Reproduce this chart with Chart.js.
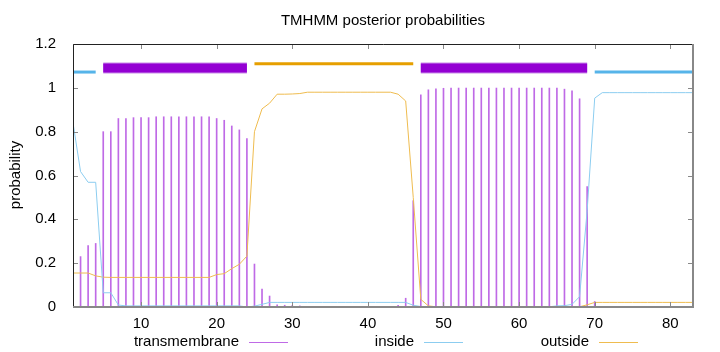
<!DOCTYPE html>
<html>
<head>
<meta charset="utf-8">
<script src="https://cdn.jsdelivr.net/npm/chart.js@4"></script>
<style>
  html, body { margin: 0; padding: 0; background: #fff; }
  canvas { display: block; }
</style>
</head>
<body>
<canvas id="tmhmm_chart" width="720" height="352"></canvas>
<script>
// posterior probabilities, residue 1..83
const positions = Array.from({ length: 83 }, (_, i) => i + 1);

const transmembrane = [
  0.005, 0.23, 0.28, 0.29, 0.80, 0.80, 0.86, 0.86, 0.864, 0.864,
  0.864, 0.868, 0.868, 0.868, 0.868, 0.868, 0.868, 0.868, 0.868, 0.86,
  0.852, 0.826, 0.808, 0.769, 0.196, 0.082, 0.05, 0.01, 0.008, 0.007,
  0.005, 0.001, 0.001, 0.001, 0.001, 0.001, 0.001, 0.001, 0.001, 0.001,
  0.001, 0.001, 0.001, 0.008, 0.04, 0.485, 0.968, 0.991, 0.995, 0.998,
  0.999, 0.999, 0.999, 0.999, 0.999, 0.999, 0.999, 0.999, 0.999, 0.999,
  0.999, 0.999, 0.999, 0.999, 0.999, 0.994, 0.986, 0.95, 0.55, 0.025,
  0.001, 0.001, 0.001, 0.001, 0.001, 0.001, 0.001, 0.001, 0.001, 0.001,
  0.001, 0.001, 0.001
];

const inside = [
  0.84, 0.618, 0.569, 0.569, 0.065, 0.065, 0.009, 0.005, 0.005, 0.005,
  0.005, 0.005, 0.005, 0.005, 0.005, 0.005, 0.005, 0.005, 0.005, 0.005,
  0.005, 0.005, 0.005, 0.0, 0.004, 0.012, 0.021, 0.021, 0.021, 0.021,
  0.021, 0.021, 0.021, 0.021, 0.021, 0.021, 0.021, 0.021, 0.021, 0.021,
  0.021, 0.021, 0.021, 0.021, 0.021, 0.008, 0.002, 0.001, 0.001, 0.001,
  0.001, 0.001, 0.001, 0.001, 0.001, 0.001, 0.001, 0.001, 0.001, 0.001,
  0.001, 0.001, 0.001, 0.001, 0.005, 0.006, 0.012, 0.047, 0.44, 0.953,
  0.978, 0.978, 0.978, 0.978, 0.978, 0.978, 0.978, 0.978, 0.978, 0.978,
  0.978, 0.978, 0.978
];

const outside = [
  0.155, 0.155, 0.155, 0.142, 0.136, 0.135, 0.135, 0.135, 0.135, 0.135,
  0.135, 0.135, 0.135, 0.135, 0.135, 0.135, 0.135, 0.135, 0.135, 0.148,
  0.152, 0.175, 0.195, 0.232, 0.80, 0.904, 0.93, 0.971, 0.971, 0.972,
  0.974, 0.98, 0.98, 0.98, 0.98, 0.98, 0.98, 0.98, 0.98, 0.98,
  0.98, 0.98, 0.98, 0.971, 0.94, 0.50, 0.035, 0.005, 0.001, 0.001,
  0.001, 0.001, 0.001, 0.001, 0.001, 0.001, 0.001, 0.001, 0.001, 0.001,
  0.001, 0.001, 0.001, 0.001, 0.001, 0.001, 0.001, 0.001, 0.01, 0.021,
  0.021, 0.021, 0.021, 0.021, 0.021, 0.021, 0.021, 0.021, 0.021, 0.021,
  0.021, 0.021, 0.021
];

// predicted topology segments [start, end] and the level they sit on
const insideSegs = [[1, 4], [70, 83]];
const tmSegs = [[5, 24], [47, 69]];
const outsideSegs = [[25, 46]];
const insideLevel = 1.072;
const tmLevel = 1.09;
const outsideLevel = 1.11;

const xTicks = [10, 20, 30, 40, 50, 60, 70, 80];
const yTicks = [0, 0.2, 0.4, 0.6, 0.8, 1.0, 1.2];

const legendItems = ["transmembrane", "inside", "outside"];

const C_TM = "#9400D3";
const C_TM_LINE = "#bf6ae6";
const C_IN = "#56B4E9";
const C_IN_LINE = "#8ccdf0";
const C_OUT = "#E69F00";
const C_OUT_LINE = "#efbc4f";
const FONT = "'Liberation Sans', Arial, sans-serif";

const toPts = (arr) => arr.map((v, i) => ({ x: positions[i], y: v }));

function segDatasets(segs, level, color, width, order) {
  return segs.map(([a, b]) => ({
    type: "line",
    data: [{ x: a, y: level }, { x: b, y: level }],
    borderColor: color,
    borderWidth: width,
    borderCapStyle: "butt",
    pointRadius: 0,
    order,
  }));
}

// gnuplot-like frame, inward ticks, title, ylabel, legend
const gnuplotFrame = {
  id: "gnuplotFrame",
  afterDraw(chart) {
    const { ctx, chartArea: a, scales } = chart;
    ctx.save();

    // ticks
    ctx.strokeStyle = "#888";
    ctx.lineWidth = 1;
    ctx.beginPath();
    xTicks.forEach((v) => {
      const px = Math.round(scales.x.getPixelForValue(v)) + 0.5;
      ctx.moveTo(px, a.bottom);
      ctx.lineTo(px, a.bottom - 5);
      ctx.moveTo(px, a.top);
      ctx.lineTo(px, a.top + 5);
    });
    yTicks.forEach((v) => {
      const py = Math.round(scales.y.getPixelForValue(v)) + 0.5;
      ctx.moveTo(a.left, py);
      ctx.lineTo(a.left + 5, py);
      ctx.moveTo(a.right, py);
      ctx.lineTo(a.right - 5, py);
    });
    ctx.stroke();

    // border: top/left dark, bottom/right grey
    ctx.strokeStyle = "#222";
    ctx.beginPath();
    ctx.moveTo(a.left + 0.5, a.bottom);
    ctx.lineTo(a.left + 0.5, a.top + 0.5);
    ctx.lineTo(a.right, a.top + 0.5);
    ctx.stroke();
    ctx.strokeStyle = "#888";
    ctx.lineWidth = 2;
    ctx.beginPath();
    ctx.moveTo(a.left, a.bottom);
    ctx.lineTo(a.right, a.bottom);
    ctx.lineTo(a.right, a.top);
    ctx.stroke();

    // title
    ctx.fillStyle = "#000";
    ctx.font = `15px ${FONT}`;
    ctx.textAlign = "center";
    ctx.textBaseline = "middle";
    ctx.fillText("TMHMM posterior probabilities", 383, 21);

    // y label
    ctx.save();
    ctx.translate(16, 175);
    ctx.rotate(-Math.PI / 2);
    ctx.fillText("probability", 0, 0);
    ctx.restore();

    // legend
    const legendCols = [
      { end: 239, color: C_TM_LINE },
      { end: 414, color: C_IN_LINE },
      { end: 589, color: C_OUT_LINE },
    ];
    ctx.textAlign = "right";
    legendItems.forEach((label, i) => {
      const { end, color } = legendCols[i];
      ctx.fillStyle = "#000";
      ctx.fillText(label, end, 342);
      ctx.strokeStyle = color;
      ctx.lineWidth = 1;
      ctx.beginPath();
      ctx.moveTo(end + 10, 342.5);
      ctx.lineTo(end + 49, 342.5);
      ctx.stroke();
    });

    ctx.restore();
  },
};

const ctx = document.getElementById("tmhmm_chart").getContext("2d");

new Chart(ctx, {
  data: {
    datasets: [
      ...segDatasets(insideSegs, insideLevel, C_IN, 3, 0),
      ...segDatasets(outsideSegs, outsideLevel, C_OUT, 3, 0),
      ...segDatasets(tmSegs, tmLevel, C_TM, 9, 0),
      ...segDatasets(tmSegs, tmLevel, "#c98be8", 11, 0.5),
      {
        type: "line",
        label: "inside",
        data: toPts(inside),
        borderColor: C_IN_LINE,
        borderWidth: 1,
        pointRadius: 0,
        tension: 0,
        order: 1,
      },
      {
        type: "line",
        label: "outside",
        data: toPts(outside),
        borderColor: C_OUT_LINE,
        borderWidth: 1,
        pointRadius: 0,
        tension: 0,
        order: 1,
      },
      {
        type: "bar",
        label: "transmembrane",
        data: toPts(transmembrane),
        backgroundColor: C_TM_LINE,
        borderWidth: 0,
        barThickness: 1,
        order: 2,
      },
    ],
  },
  options: {
    responsive: false,
    devicePixelRatio: 1,
    animation: false,
    events: [],
    layout: { padding: { top: 44, right: 27, bottom: 0, left: 0 } },
    plugins: {
      legend: { display: false },
      title: { display: false },
      tooltip: { enabled: false },
    },
    scales: {
      x: {
        type: "linear",
        min: 1,
        max: 83,
        offset: false,
        grid: { display: false, offset: false },
        border: { display: false },
        afterBuildTicks: (s) => { s.ticks = xTicks.map((v) => ({ value: v })); },
        afterFit: (s) => { s.height = 45; },
        ticks: {
          autoSkip: false,
          maxRotation: 0,
          padding: 0,
          color: "#000",
          font: { family: FONT, size: 15 },
        },
      },
      y: {
        type: "linear",
        min: 0,
        max: 1.2,
        grid: { display: false },
        border: { display: false },
        afterBuildTicks: (s) => { s.ticks = yTicks.map((v) => ({ value: v })); },
        afterFit: (s) => { s.width = 73; },
        ticks: {
          padding: 9,
          color: "#000",
          font: { family: FONT, size: 15 },
          callback: (v) => String(Math.round(v * 10) / 10),
        },
      },
    },
  },
  plugins: [gnuplotFrame],
});
</script>
</body>
</html>
